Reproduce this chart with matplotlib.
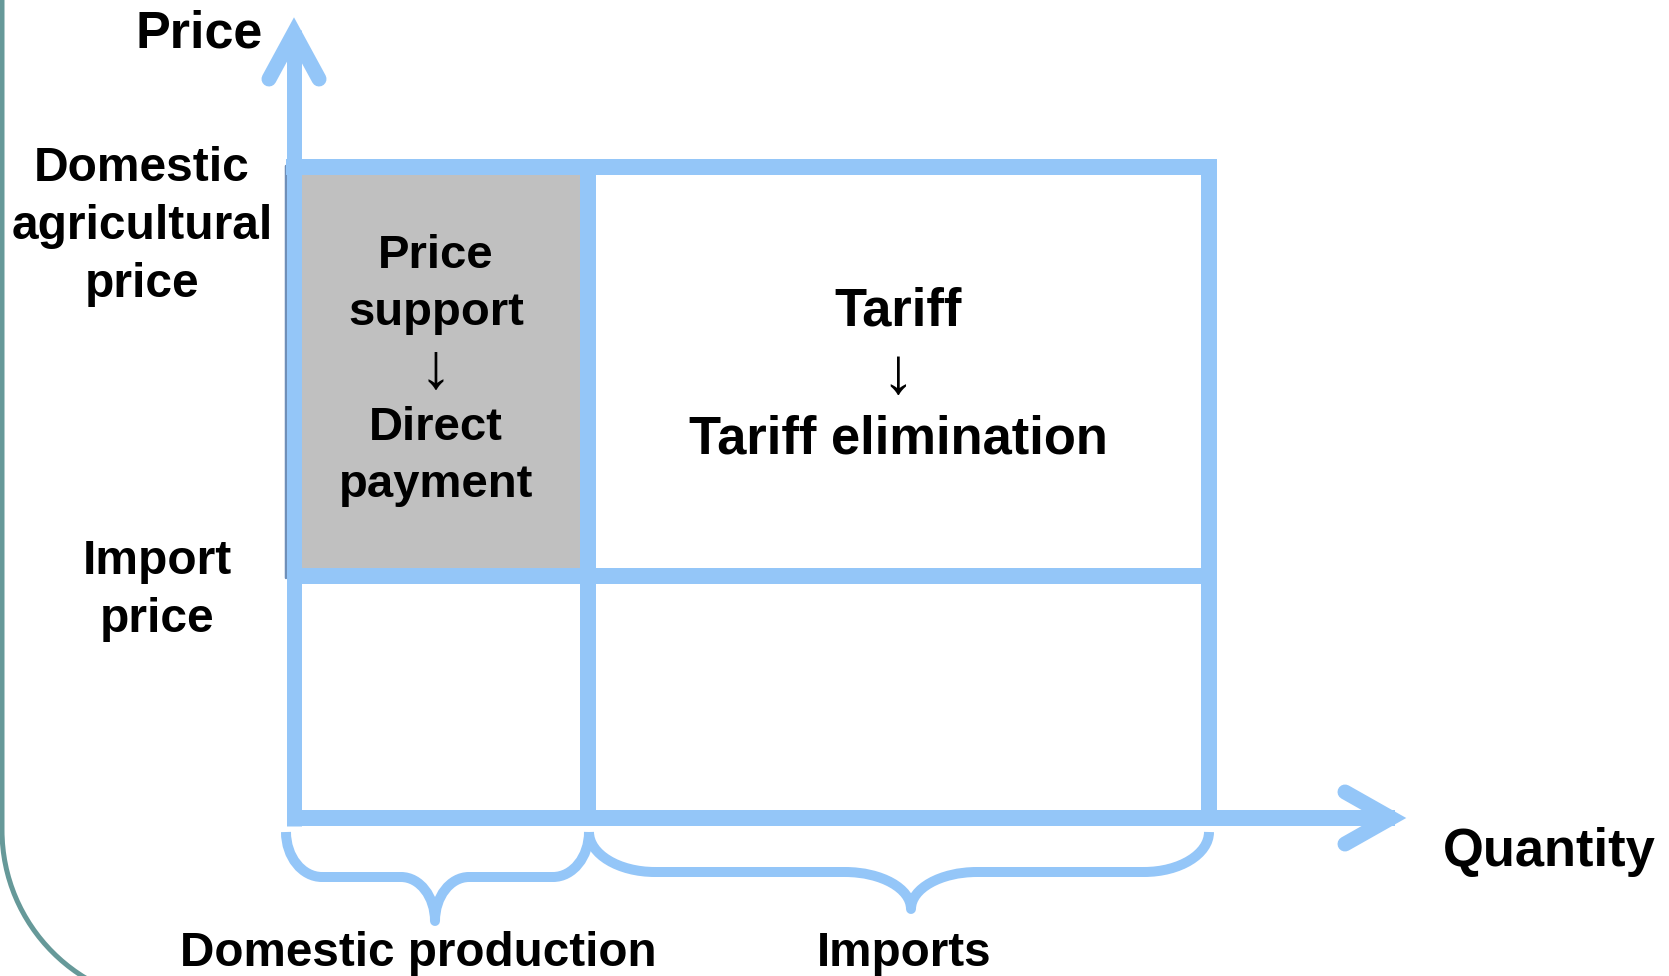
import matplotlib
matplotlib.use("Agg")
import matplotlib.pyplot as plt
from matplotlib.path import Path
from matplotlib.patches import PathPatch, Rectangle

# ---- content (text) ----
axis_labels = ["Price", "Quantity"]
price_level_labels = [["Domestic", "agricultural", "price"], ["Import", "price"]]
segment_labels = ["Domestic production", "Imports"]
support_labels = ["Price", "support", "\u2193", "Direct", "payment"]
tariff_labels = ["Tariff", "\u2193", "Tariff elimination"]

# ---- layout (pixel coordinates, y downward) ----
W, H = 1669, 976
X0, XDIV, XR = 294, 588, 1209       # y-axis, divider, right edge
YTOP, YMID, YBOT = 167, 576, 818    # domestic price, import price, x-axis

BLUE = "#94C6F8"
GRAY = "#C0C0C0"
TEAL = "#669999"
FONT = ["Liberation Sans", "DejaVu Sans"]
PX = 0.72  # px -> pt at dpi 100

fig = plt.figure(figsize=(W / 100, H / 100), dpi=100)
ax = fig.add_axes([0, 0, 1, 1])
ax.set_xlim(0, W)
ax.set_ylim(H, 0)
ax.axis("off")

# teal frame (left edge with rounded corner)
R = 173
k = 0.552
frame = Path([(2, -20), (2, 830), (2, 830 + k * R), (175 - k * R, 830 + R), (175, 830 + R), (400, 830 + R)],
             [Path.MOVETO, Path.LINETO, Path.CURVE4, Path.CURVE4, Path.CURVE4, Path.LINETO])
ax.add_patch(PathPatch(frame, fill=False, edgecolor=TEAL, lw=5 * PX))

# gray price support region
ax.add_patch(Rectangle((X0, YTOP), XDIV - X0, YMID - YTOP, facecolor=GRAY, edgecolor="none", zorder=1))
# thin shadow line at left of gray region
ax.plot([285.5, 285.5], [166, 578], color="#6F8FB8", lw=2.5 * PX, solid_capstyle="round", zorder=1.5)

lw = 16 * PX
def seg(xs, ys, cap="projecting"):
    ax.plot(xs, ys, color=BLUE, lw=lw, solid_capstyle=cap, zorder=2)

seg([X0, XR], [YTOP, YTOP])
seg([X0, XR], [YMID, YMID], cap="butt")
seg([XR, XR], [YTOP, YBOT], cap="butt")
seg([XDIV, XDIV], [YTOP, YBOT], cap="butt")
# axes shafts
ax.plot([X0, X0], [30, YBOT + 8], color=BLUE, lw=15 * PX, solid_capstyle="butt", zorder=2)
ax.plot([X0 - 7, 1395], [YBOT, YBOT], color=BLUE, lw=16 * PX, solid_capstyle="butt", zorder=2)
# arrow heads
ax.plot([269, X0, 319], [79, 33, 79], color=BLUE, lw=15 * PX, solid_capstyle="round",
        solid_joinstyle="miter", zorder=2)
ax.plot([1345, 1391, 1345], [792, YBOT, 844], color=BLUE, lw=15 * PX, solid_capstyle="round",
        solid_joinstyle="miter", zorder=2)

# braces
def brace(x0, x1, xc, y0, ym, yt, r1, r2, r3):
    v = [(x0, y0),
         (x0, y0 + k * (ym - y0)), (x0 + r1 * (1 - k), ym), (x0 + r1, ym),
         (xc - r2, ym),
         (xc - r2 + k * r2, ym), (xc, yt - k * (yt - ym)), (xc, yt),
         (xc, yt - k * (yt - ym)), (xc + r2 - k * r2, ym), (xc + r2, ym),
         (x1 - r3, ym),
         (x1 - r3 + k * r3, ym), (x1, y0 + k * (ym - y0)), (x1, y0)]
    c = [Path.MOVETO] + [Path.CURVE4] * 3 + [Path.LINETO] + [Path.CURVE4] * 6 + [Path.LINETO] + [Path.CURVE4] * 3
    ax.add_patch(PathPatch(Path(v, c), fill=False, edgecolor=BLUE, lw=10 * PX,
                           capstyle="butt", joinstyle="round", zorder=2))

brace(286, 589, 435, 832, 877, 921, 36, 34, 36)
brace(589, 1209, 911, 832, 872, 909, 66, 66, 65)

# text
def txt(x, y, s, size, weight="bold", va="baseline"):
    ax.text(x, y, s, fontsize=size, fontweight=weight, family=FONT, ha="center", va=va,
            color="black", zorder=3)

txt(199, 47, axis_labels[0], 37.5)
txt(1549, 866, axis_labels[1], 37.8)

for s, yb in zip(price_level_labels[0], [181, 239, 297]):
    txt(142, yb, s, 34.5)
for s, yb in zip(price_level_labels[1], [574, 632]):
    txt(157, yb, s, 34.5)

sup_y = [268, 325, 370, 440, 497]
for s, yb in zip(support_labels, sup_y):
    if s == "\u2193":
        txt(436, yb, s, 46, weight="normal", va="center")
    else:
        txt(436, yb, s, 34)

tar_y = [326, 376, 454]
for s, yb in zip(tariff_labels, tar_y):
    if s == "\u2193":
        txt(898, yb, s, 47, weight="normal", va="center")
    else:
        txt(898, yb, s, 37.8)

txt(418, 966, segment_labels[0], 34.3)
txt(904, 966, segment_labels[1], 34.3)

fig.savefig("out.png", dpi=100)
